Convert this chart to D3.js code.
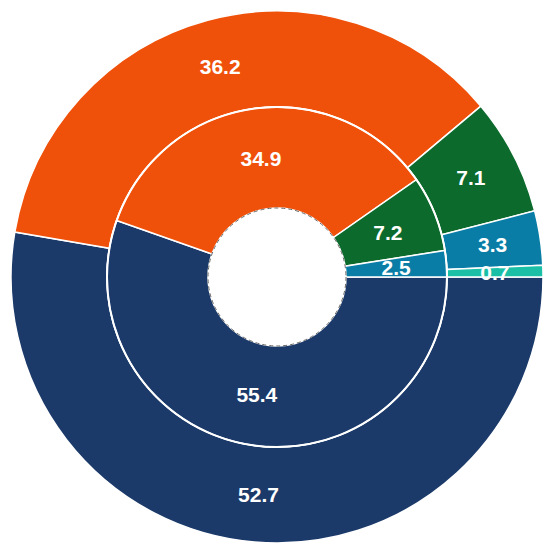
<!DOCTYPE html>
<html>
<head>
<meta charset="utf-8">
<script src="https://cdn.jsdelivr.net/npm/d3@7"></script>
<style>
  html, body { margin: 0; padding: 0; background: #fff; }
  text { font-family: "Liberation Sans", Arial, sans-serif; font-weight: bold; }
</style>
</head>
<body>
<div id="chart"></div>
<script>
const WIDTH = 547;
const HEIGHT = 547;

// categories, in drawing order (clockwise from 3 o'clock)
var CATEGORIES = ["A", "B", "C", "D", "E"];
var COLORS = ["#1b3a6a", "#f0510a", "#0b6a2c", "#0a7da6", "#1bbfa6"];

// outer ring and inner ring values (percent)
var OUTER = [52.7, 36.2, 7.1, 3.3, 0.7];
var INNER = [55.4, 34.9, 7.2, 2.5, 0];

const CX = 277, CY = 277;
const R_OUT = 266, R_MID = 170, R_IN = 69;

var color = d3.scaleOrdinal().domain(CATEGORIES).range(COLORS);

var pie = d3.pie()
  .sort(null)
  .startAngle(Math.PI / 2)
  .endAngle(Math.PI / 2 + 2 * Math.PI);

var svg = d3.select("#chart")
  .append("svg")
  .attr("width", WIDTH)
  .attr("height", HEIGHT);

var g = svg.append("g").attr("transform", "translate(" + CX + "," + CY + ")");

function drawRing(values, r0, r1, cls) {
  var arc = d3.arc().innerRadius(r0).outerRadius(r1);
  var arcs = pie(values).map((d, i) => Object.assign(d, { cat: CATEGORIES[i] }));

  var ring = g.append("g").attr("class", cls);

  ring.selectAll("path")
    .data(arcs.filter(d => d.value > 0))
    .enter()
    .append("path")
    .attr("d", arc)
    .attr("fill", d => color(d.cat))
    .attr("stroke", "#fff")
    .attr("stroke-width", 1.5);

  ring.selectAll("text")
    .data(arcs.filter(d => d.value > 0))
    .enter()
    .append("text")
    .attr("transform", d => "translate(" + arc.centroid(d) + ")")
    .attr("text-anchor", "middle")
    .attr("dy", "0.36em")
    .attr("fill", "#fff")
    .attr("font-size", 21)
    .text(d => d3.format(".1f")(d.value));
}

drawRing(OUTER, R_MID, R_OUT, "outer");
drawRing(INNER, R_IN, R_MID, "inner");

//ring separators
g.append("circle")
  .attr("r", R_MID)
  .attr("fill", "none")
  .attr("stroke", "#fff")
  .attr("stroke-width", 2);

g.append("circle")
  .attr("r", R_IN)
  .attr("fill", "#fff")
  .attr("stroke", "#666")
  .attr("stroke-width", 1)
  .attr("stroke-dasharray", "4,3");
</script>
</body>
</html>
